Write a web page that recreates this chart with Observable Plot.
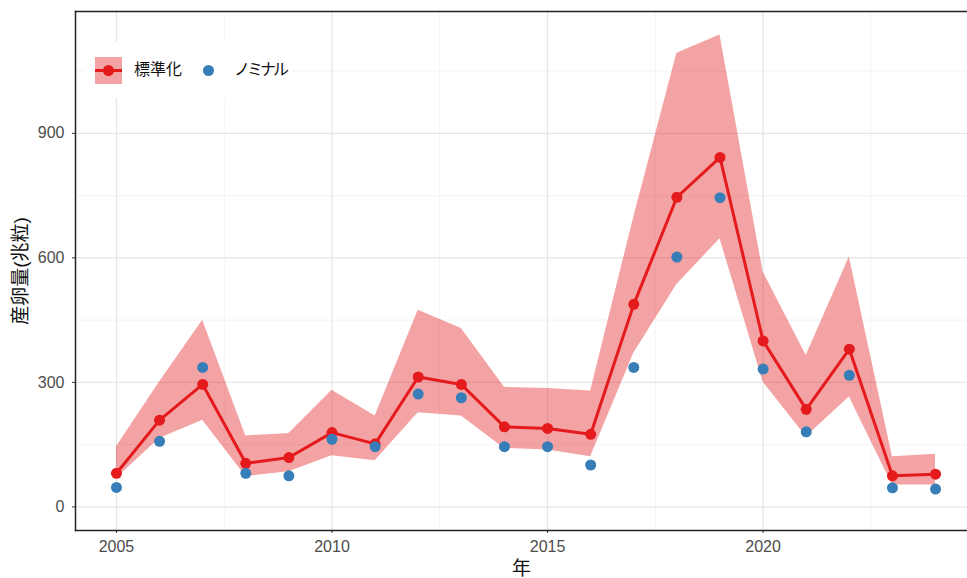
<!DOCTYPE html>
<html>
<head>
<meta charset="utf-8">
<script src="https://cdn.jsdelivr.net/npm/d3@7"></script>
<script src="https://cdn.jsdelivr.net/npm/@observablehq/plot@0.6"></script>
<style>
  html, body { margin: 0; padding: 0; background: white; overflow: hidden; }
  #wrap { position: relative; width: 967px; height: 578px; overflow: hidden; }
  #legend { position: absolute; left: 84px; top: 42px; width: 208px; height: 56px; background: white;
    font-family: Arial, "Liberation Sans", "Noto Sans CJK JP", sans-serif; font-size: 16px; color: #111; }
  .key { position: absolute; left: 11px; top: 15px; width: 27px; height: 27px; background: rgba(228,26,28,0.4); }
  .key .ln { position: absolute; left: 0; top: 12px; width: 27px; height: 3px; background: #E41A1C; }
  .key .pt { position: absolute; left: 8px; top: 8px; width: 11px; height: 11px; border-radius: 50%; background: #E41A1C; }
  .lab { position: absolute; top: 17px; line-height: 22px; white-space: nowrap; }
  .bdot { position: absolute; left: 119px; top: 23px; width: 11px; height: 11px; border-radius: 50%; background: #377EB8; }
</style>
</head>
<body>
<div id="wrap"></div>
<script>
const years = [2005,2006,2007,2008,2009,2010,2011,2012,2013,2014,2015,2016,2017,2018,2019,2020,2021,2022,2023,2024];
const standardized = [81,209,295,105,119,179,152,313,295,193,189,175,488,746,842,400,235,380,75,79];
const nominal = [47,158,336,81,75,163,145,272,263,145,145,101,336,602,745,332,181,317,46,43];
const lower = [69,165,209,73,85,123,111,227,219,141,137,121,370,536,646,301,169,265,53,53];
const upper = [145,301,450,171,177,281,219,474,430,288,285,279,698,1093,1137,566,365,602,121,127];
const xTicks = [2005,2010,2015,2020];
const xMinor = [2007.5,2012.5,2017.5,2022.5];
const yTicks = [0,300,600,900];
const yMinor = [150,450,750,1050];
const labels = {std: "標準化", nom: "ノミナル", x: "年", y: "産卵量(兆粒)"};

const data = years.map((y, i) => ({year: y, std: standardized[i], nom: nominal[i], lo: lower[i], hi: upper[i]}));

const RED = "#E41A1C", BLUE = "#377EB8";
const chart = Plot.plot({
  width: 967,
  height: 578,
  marginLeft: 75,
  marginTop: 11,
  marginBottom: 48,
  marginRight: 0,
  style: {fontFamily: 'Arial, "Liberation Sans", "Noto Sans CJK JP", sans-serif', fontSize: "16px", background: "white", overflow: "hidden"},
  x: {domain: [2004.05, 2024.95], range: [75, 976]},
  y: {domain: [-56.8, 1193.5]},
  marks: [
    Plot.gridX(xMinor, {stroke: "#ebebeb", strokeOpacity: 1, strokeWidth: 0.6}),
    Plot.gridY(yMinor, {stroke: "#ebebeb", strokeOpacity: 1, strokeWidth: 0.6}),
    Plot.gridX(xTicks, {stroke: "#e6e6e6", strokeOpacity: 1, strokeWidth: 1.2}),
    Plot.gridY(yTicks, {stroke: "#e6e6e6", strokeOpacity: 1, strokeWidth: 1.2}),
    Plot.areaY(data, {x: "year", y1: "lo", y2: "hi", fill: RED, fillOpacity: 0.4}),
    Plot.line(data, {x: "year", y: "std", stroke: RED, strokeWidth: 3}),
    Plot.dot(data, {x: "year", y: "std", r: 5.5, fill: RED}),
    Plot.dot(data, {x: "year", y: "nom", r: 5.5, fill: BLUE}),
    Plot.axisX(xTicks, {tickFormat: "d", tickSize: 3, tickPadding: 7, stroke: "#333", fill: "#4d4d4d",
      label: labels.x, labelAnchor: "center", labelArrow: "none", labelOffset: 44}),
    Plot.axisY(yTicks, {tickFormat: "d", tickSize: 3, tickPadding: 8, stroke: "#333", fill: "#4d4d4d",
      label: labels.y, labelAnchor: "center", labelArrow: "none", labelOffset: 62}),
    Plot.frame({anchor: "left", stroke: "#222", strokeWidth: 1.5}),
    Plot.frame({anchor: "top", stroke: "#222", strokeWidth: 1.5}),
    Plot.frame({anchor: "bottom", stroke: "#222", strokeWidth: 1.5})
  ]
});
chart.querySelectorAll('[aria-label="x-axis tick label"], [aria-label="y-axis tick label"]').forEach(el => {
  el.setAttribute("font-size", 16);
  el.querySelectorAll("text").forEach(t => t.setAttribute("font-size", 16));
});
chart.querySelectorAll('[aria-label$="axis label"] text, [aria-label$="axis label"]').forEach(el => {
  el.setAttribute("font-size", 19);
  el.setAttribute("fill", "#111");
});
const wrap = document.getElementById("wrap");
wrap.appendChild(chart);
const legend = document.createElement("div");
legend.id = "legend";
legend.innerHTML = `<div class="key"><div class="ln"></div><div class="pt"></div></div>
  <span class="lab" style="left:50px">${labels.std}</span>
  <div class="bdot"></div>
  <span class="lab" style="left:150px; letter-spacing:-3px">${labels.nom}</span>`;
wrap.appendChild(legend);
</script>
</body>
</html>
